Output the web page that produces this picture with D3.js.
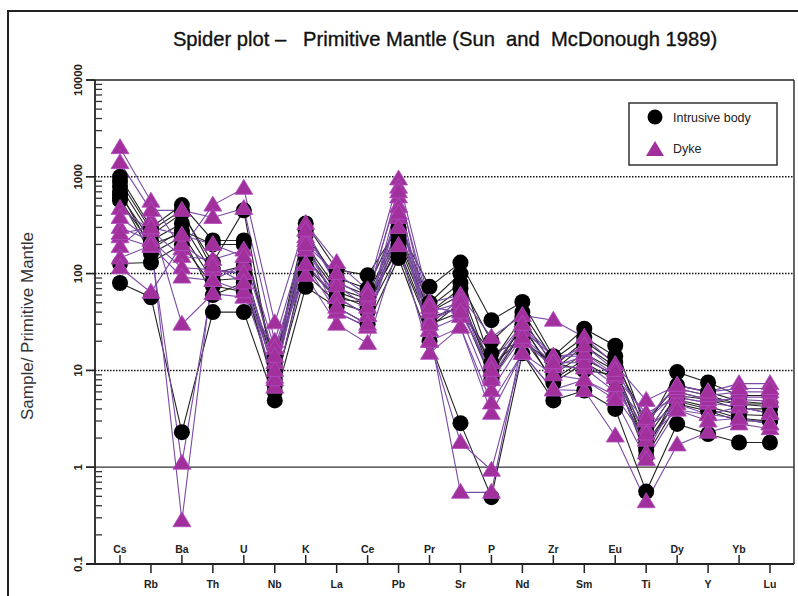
<!DOCTYPE html>
<html>
<head>
<meta charset="utf-8">
<script src="https://cdn.jsdelivr.net/npm/d3@7"></script>
<style>
  html, body { margin: 0; padding: 0; background: #fff; }
  svg { display: block; font-family: "Liberation Sans", Arial, sans-serif; }
</style>
</head>
<body>
<svg id="chart" width="798" height="596"></svg>
<script>
// ---------- data ----------
const elements = ["Cs","Rb","Ba","Th","U","Nb","K","La","Ce","Pb","Pr","Sr","P","Nd","Zr","Sm","Eu","Ti","Dy","Y","Yb","Lu"];

// Intrusive body samples (normalised to Primitive Mantle), one row per sample
const intrusiveBody = [
  [80, 57, 2.3, 40, 40, 4.9, 73, 45, 30, 145, 20, 2.85, 0.49, 15, 4.9, 6.2, 4.0, 0.56, 2.8, 2.2, 1.8, 1.8],
  [1000, 300, 510, 220, 220, 12, 330, 110, 96, 300, 73, 130, 33, 51, 14, 27, 18, 2.5, 9.6, 7.5, 5.5, 5.5],
  [800, 250, 420, 130, 450, 8, 250, 90, 70, 350, 50, 100, 12, 35, 11, 20, 12, 3.0, 7, 6, 4.8, 4.5],
  [650, 220, 330, 100, 120, 10, 200, 70, 55, 250, 40, 60, 9, 30, 9, 15, 10, 2.0, 5.5, 5, 4, 4],
  [570, 200, 260, 85, 90, 6, 150, 60, 45, 200, 35, 45, 8, 25, 7.4, 12, 8, 1.6, 5, 4.2, 3.5, 3.4],
  [127, 130, 200, 75, 65, 14, 120, 55, 50, 180, 30, 40, 15, 20, 12, 10, 9, 1.3, 4.5, 3.8, 3, 3],
  [900, 280, 450, 110, 100, 9, 180, 65, 50, 220, 40, 70, 10, 28, 10, 18, 11, 1.5, 6, 5, 4.5, 4.2],
  [700, 180, 280, 200, 200, 11, 280, 80, 60, 280, 45, 80, 20, 40, 13, 22, 14, 2.2, 6.5, 5.5, 4.5, 4.5],
  [600, 160, 240, 60, 80, 7, 100, 50, 40, 160, 28, 50, 11, 22, 8, 13, 9, 1.8, 4.8, 4, 3.2, 3]
];

// Dyke samples
const dyke = [
  [300, 220, 0.28, 110, 100, 6.7, 125, 57, 37, 500, 26, 0.55, 0.55, 20, 11, 14, 8.5, 1.4, 5.3, 4.6, 4.2, 3.6],
  [240, 190, 1.1, 85, 125, 8.5, 175, 40, 28, 380, 20, 1.8, 0.93, 15, 6.3, 8, 5.5, 1.9, 3.9, 3.5, 3.2, 2.8],
  [190, 360, 30, 62, 57, 17, 96, 30, 19, 195, 15, 28, 3.6, 15, 6.3, 6.2, 2.1, 0.44, 1.7, 2.3, 2.8, 2.5],
  [2000, 560, 180, 510, 760, 31, 330, 130, 68, 950, 50, 60, 22, 37, 33, 22, 11.5, 4.9, 7, 6, 7.3, 7.3],
  [1400, 450, 450, 380, 470, 20, 240, 85, 54, 780, 33, 45, 8.5, 26, 14, 14, 8.5, 3.6, 5.3, 4.6, 5.3, 5.3],
  [470, 280, 150, 140, 175, 17, 175, 57, 37, 620, 26, 36, 6.2, 20, 11, 10.6, 6, 2.5, 4.5, 3.5, 4.2, 3.6],
  [380, 220, 115, 110, 100, 12, 125, 40, 28, 490, 20, 28, 4.6, 15, 9, 8, 5, 1.2, 3.9, 3, 3.2, 2.8],
  [145, 195, 92, 85, 65, 8, 220, 45, 30, 300, 30, 55, 8, 22, 12, 12, 7, 3.0, 6, 5, 5, 4.8],
  [115, 64, 200, 120, 80, 10, 280, 75, 45, 420, 40, 50, 12, 30, 14, 15, 9, 2.2, 6.5, 5.5, 6, 6],
  [260, 300, 250, 200, 150, 14, 200, 100, 60, 700, 45, 40, 10, 30, 12, 18, 10, 3.2, 7, 6, 6.5, 6.5]
];

const yTickValues = [0.1, 1, 10, 100, 1000, 10000];
const yTickLabels = ["0.1", "1", "10", "100", "1000", "10000"];
const legendLabels = ["Intrusive body", "Dyke"];
const titleText = "Spider plot \u2013   Primitive Mantle (Sun  and  McDonough 1989)";
const yTitle = "Sample/ Primitive Mantle";

// ---------- layout ----------
const svg = d3.select("#chart");
const X0 = 95, X1 = 794, YT = 80, YB = 564;
const x = d3.scalePoint().domain(elements).range([120, 770]);
const y = d3.scaleLog().domain([0.1, 10000]).range([YB, YT]);

const triColor = "#a2309c";
const triStroke = "#b04cc0";
const dykeLine = "#7a4aa6";

// outer frame
svg.append("rect").attr("x", 8).attr("y", 11).attr("width", 820).attr("height", 620)
  .attr("fill", "none").attr("stroke", "#222").attr("stroke-width", 2);

// title
svg.append("text").attr("x", 445).attr("y", 46).attr("text-anchor", "middle")
  .attr("font-size", 20.2).attr("fill", "#111").attr("stroke", "#111").attr("stroke-width", 0.35)
  .style("white-space", "pre").attr("xml:space", "preserve").text(titleText);

// gridlines
[1000, 100, 10].forEach(v => {
  svg.append("line").attr("x1", 86).attr("x2", X1).attr("y1", y(v)).attr("y2", y(v))
    .attr("stroke", "#111").attr("stroke-width", 1.5).attr("stroke-dasharray", "1.5,1.5");
});
svg.append("line").attr("x1", 86).attr("x2", X1).attr("y1", y(1)).attr("y2", y(1))
  .attr("stroke", "#333").attr("stroke-width", 1.2);

// frame of plot: top and right
svg.append("line").attr("x1", 86).attr("x2", X1).attr("y1", YT).attr("y2", YT)
  .attr("stroke", "#222").attr("stroke-width", 1.5);
svg.append("line").attr("x1", X1).attr("x2", X1).attr("y1", YT).attr("y2", YB)
  .attr("stroke", "#333").attr("stroke-width", 1.5);

// y axis line, major ticks, minor ticks
const yAxisG = svg.append("g");
yAxisG.append("line").attr("x1", X0).attr("x2", X0).attr("y1", YT).attr("y2", YB)
  .attr("stroke", "#222").attr("stroke-width", 1.8);
yTickValues.forEach((v, i) => {
  yAxisG.append("line").attr("x1", 86).attr("x2", X0).attr("y1", y(v)).attr("y2", y(v))
    .attr("stroke", "#222").attr("stroke-width", 1.5);
  yAxisG.append("text")
    .attr("transform", `translate(81.5,${y(v)}) rotate(-90)`)
    .attr("text-anchor", "middle").attr("font-size", 11.5).attr("font-weight", "bold")
    .attr("fill", "#222").text(yTickLabels[i]);
});
const minor = [];
[0.1, 1, 10, 100, 1000].forEach(d => { for (let k = 2; k <= 9; k++) minor.push(d * k); });
yAxisG.selectAll("line.minor").data(minor).join("line").attr("class", "minor")
  .attr("x1", X0).attr("x2", 102).attr("y1", d => y(d)).attr("y2", d => y(d))
  .attr("stroke", "#333").attr("stroke-width", 1.3);

// y title
svg.append("text").attr("transform", "translate(33,326) rotate(-90)")
  .attr("text-anchor", "middle").attr("font-size", 17).attr("fill", "#333").text(yTitle);

// x axis
svg.append("line").attr("x1", 86).attr("x2", X1).attr("y1", YB).attr("y2", YB)
  .attr("stroke", "#222").attr("stroke-width", 1.8);
elements.forEach((e, i) => {
  const up = i % 2 === 0;
  svg.append("line").attr("x1", x(e)).attr("x2", x(e))
    .attr("y1", YB).attr("y2", up ? YB - 9 : YB + 9)
    .attr("stroke", "#222").attr("stroke-width", 1.5);
  svg.append("text").attr("x", x(e)).attr("y", up ? YB - 11 : YB + 24)
    .attr("text-anchor", "middle").attr("font-size", 10.5).attr("font-weight", "bold")
    .attr("fill", "#222").text(e);
});

// lines
const line = d3.line().x((d, i) => x(elements[i])).y(d => y(d));
svg.append("g").selectAll("path").data(intrusiveBody).join("path")
  .attr("d", line).attr("fill", "none").attr("stroke", "#222").attr("stroke-width", 1.1);
svg.append("g").selectAll("path").data(dyke).join("path")
  .attr("d", line).attr("fill", "none").attr("stroke", dykeLine).attr("stroke-width", 1.1);

// markers
const triPath = "M0,-9L9,6L-9,6Z";
const circG = svg.append("g");
intrusiveBody.forEach(s => {
  circG.selectAll(null).data(s).join("circle")
    .attr("cx", (d, i) => x(elements[i])).attr("cy", d => y(d)).attr("r", 8)
    .attr("fill", "#000");
});
const triG = svg.append("g");
dyke.forEach(s => {
  triG.selectAll(null).data(s).join("path")
    .attr("transform", (d, i) => `translate(${x(elements[i])},${y(d)})`)
    .attr("d", triPath).attr("fill", triColor).attr("stroke", triStroke).attr("stroke-width", 0.8);
});

// legend
const lg = svg.append("g");
lg.append("rect").attr("x", 629).attr("y", 103).attr("width", 148).attr("height", 62)
  .attr("fill", "#fff").attr("stroke", "#333").attr("stroke-width", 1.5);
lg.append("circle").attr("cx", 655).attr("cy", 117).attr("r", 7.5).attr("fill", "#000");
lg.append("path").attr("transform", "translate(655,150)").attr("d", triPath)
  .attr("fill", triColor);
lg.append("text").attr("x", 673).attr("y", 121.5).attr("font-size", 12.5).attr("fill", "#222").text(legendLabels[0]);
lg.append("text").attr("x", 673).attr("y", 153).attr("font-size", 12.5).attr("fill", "#222").text(legendLabels[1]);
</script>
</body>
</html>
